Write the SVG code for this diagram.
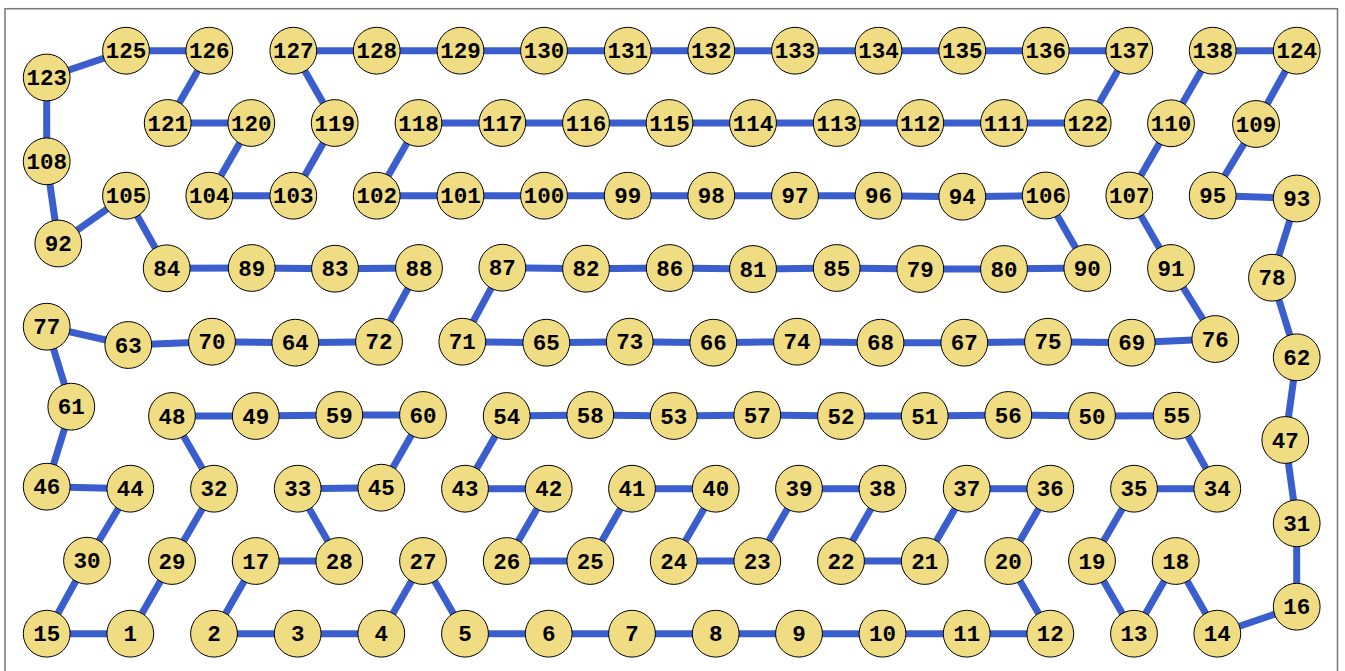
<svg xmlns="http://www.w3.org/2000/svg" width="1345" height="671" viewBox="0 0 1345 671">
<style>
.e line{stroke:#3b5ecf;stroke-width:7;stroke-linecap:butt}
.n circle{fill:#f0dc82;stroke:#000;stroke-width:1}
.n text{font-family:"Liberation Mono","DejaVu Sans Mono",monospace;font-weight:bold;font-size:22.5px;text-anchor:middle;fill:#000}
</style>
<rect x="0" y="0" width="1345" height="671" fill="#fff"/>
<rect x="5" y="8.7" width="1332.5" height="675" fill="#fff" stroke="#777" stroke-width="1.5"/>
<g id="connectors" class="e">
<line x1="130.3" y1="633.7" x2="46.7" y2="633.7"/>
<line x1="46.7" y1="633.7" x2="87" y2="560.7"/>
<line x1="87" y1="560.7" x2="130.3" y2="488.7"/>
<line x1="130.3" y1="488.7" x2="46.7" y2="486.7"/>
<line x1="46.7" y1="486.7" x2="71.3" y2="406.7"/>
<line x1="71.3" y1="406.7" x2="46.7" y2="326.7"/>
<line x1="46.7" y1="326.7" x2="128.3" y2="345"/>
<line x1="128.3" y1="345" x2="212" y2="341.7"/>
<line x1="212" y1="341.7" x2="295.3" y2="342.7"/>
<line x1="295.3" y1="342.7" x2="379" y2="341.7"/>
<line x1="379" y1="341.7" x2="419" y2="268"/>
<line x1="419" y1="268" x2="335" y2="268.7"/>
<line x1="335" y1="268.7" x2="251.7" y2="268"/>
<line x1="251.7" y1="268" x2="166.7" y2="268.3"/>
<line x1="166.7" y1="268.3" x2="126" y2="195.7"/>
<line x1="126" y1="195.7" x2="58.3" y2="243.5"/>
<line x1="58.3" y1="243.5" x2="46.7" y2="161.3"/>
<line x1="46.7" y1="161.3" x2="46.7" y2="77.5"/>
<line x1="46.7" y1="77.5" x2="126" y2="50.7"/>
<line x1="126" y1="50.7" x2="209.3" y2="50.7"/>
<line x1="209.3" y1="50.7" x2="167.7" y2="123"/>
<line x1="167.7" y1="123" x2="251.3" y2="123"/>
<line x1="251.3" y1="123" x2="209.3" y2="195.7"/>
<line x1="209.3" y1="195.7" x2="293.3" y2="195.7"/>
<line x1="293.3" y1="195.7" x2="334.7" y2="123"/>
<line x1="334.7" y1="123" x2="293.3" y2="50.7"/>
<line x1="293.3" y1="50.7" x2="1129.3" y2="50.7"/>
<line x1="1129.3" y1="50.7" x2="1087.7" y2="123"/>
<line x1="1087.7" y1="123" x2="418.5" y2="123"/>
<line x1="418.5" y1="123" x2="376.7" y2="195.7"/>
<line x1="376.7" y1="195.7" x2="878.5" y2="195.7"/>
<line x1="878.5" y1="195.7" x2="962.3" y2="196.7"/>
<line x1="962.3" y1="196.7" x2="1045.7" y2="195.5"/>
<line x1="1045.7" y1="195.5" x2="1087.3" y2="268"/>
<line x1="1087.3" y1="268" x2="1004" y2="269"/>
<line x1="1004" y1="269" x2="920.3" y2="269"/>
<line x1="920.3" y1="269" x2="836.7" y2="268"/>
<line x1="836.7" y1="268" x2="753" y2="269"/>
<line x1="753" y1="269" x2="669.7" y2="268"/>
<line x1="669.7" y1="268" x2="586" y2="268.7"/>
<line x1="586" y1="268.7" x2="502.3" y2="267.7"/>
<line x1="502.3" y1="267.7" x2="462.3" y2="341.7"/>
<line x1="462.3" y1="341.7" x2="546.3" y2="342.7"/>
<line x1="546.3" y1="342.7" x2="629.7" y2="341.7"/>
<line x1="629.7" y1="341.7" x2="713.3" y2="342.7"/>
<line x1="713.3" y1="342.7" x2="797" y2="341.7"/>
<line x1="797" y1="341.7" x2="880.5" y2="342.7"/>
<line x1="880.5" y1="342.7" x2="964.3" y2="342.7"/>
<line x1="964.3" y1="342.7" x2="1048" y2="341.7"/>
<line x1="1048" y1="341.7" x2="1131.7" y2="342.7"/>
<line x1="1131.7" y1="342.7" x2="1215.3" y2="339"/>
<line x1="1215.3" y1="339" x2="1171" y2="268"/>
<line x1="1171" y1="268" x2="1129.3" y2="195.5"/>
<line x1="1129.3" y1="195.5" x2="1171" y2="123.3"/>
<line x1="1171" y1="123.3" x2="1212.7" y2="50.7"/>
<line x1="1212.7" y1="50.7" x2="1296.7" y2="50.7"/>
<line x1="1296.7" y1="50.7" x2="1256" y2="124"/>
<line x1="1256" y1="124" x2="1212.7" y2="195.5"/>
<line x1="1212.7" y1="195.5" x2="1296.7" y2="198.5"/>
<line x1="1296.7" y1="198.5" x2="1272" y2="277.7"/>
<line x1="1272" y1="277.7" x2="1296.7" y2="357.3"/>
<line x1="1296.7" y1="357.3" x2="1285.3" y2="440"/>
<line x1="1285.3" y1="440" x2="1296.7" y2="523.3"/>
<line x1="1296.7" y1="523.3" x2="1296.7" y2="606.7"/>
<line x1="1296.7" y1="606.7" x2="1217.3" y2="633.7"/>
<line x1="1217.3" y1="633.7" x2="1175.7" y2="561"/>
<line x1="1175.7" y1="561" x2="1134" y2="633.7"/>
<line x1="1134" y1="633.7" x2="1092" y2="561"/>
<line x1="1092" y1="561" x2="1134" y2="488.7"/>
<line x1="1134" y1="488.7" x2="1217.3" y2="488.7"/>
<line x1="1217.3" y1="488.7" x2="1176.7" y2="415.7"/>
<line x1="1176.7" y1="415.7" x2="1092" y2="416"/>
<line x1="1092" y1="416" x2="1008.3" y2="415"/>
<line x1="1008.3" y1="415" x2="924.7" y2="416"/>
<line x1="924.7" y1="416" x2="841" y2="416"/>
<line x1="841" y1="416" x2="757.3" y2="415"/>
<line x1="757.3" y1="415" x2="673.7" y2="416"/>
<line x1="673.7" y1="416" x2="590.3" y2="415"/>
<line x1="590.3" y1="415" x2="506.7" y2="416"/>
<line x1="506.7" y1="416" x2="465" y2="488.7"/>
<line x1="465" y1="488.7" x2="548.7" y2="488.7"/>
<line x1="548.7" y1="488.7" x2="506.7" y2="561"/>
<line x1="506.7" y1="561" x2="590.3" y2="561"/>
<line x1="590.3" y1="561" x2="632" y2="488.7"/>
<line x1="632" y1="488.7" x2="715.7" y2="488.7"/>
<line x1="715.7" y1="488.7" x2="673.7" y2="561"/>
<line x1="673.7" y1="561" x2="757.3" y2="561"/>
<line x1="757.3" y1="561" x2="799" y2="488.7"/>
<line x1="799" y1="488.7" x2="882.5" y2="488.7"/>
<line x1="882.5" y1="488.7" x2="841" y2="561"/>
<line x1="841" y1="561" x2="924.7" y2="561"/>
<line x1="924.7" y1="561" x2="966.7" y2="488.7"/>
<line x1="966.7" y1="488.7" x2="1050.3" y2="488.7"/>
<line x1="1050.3" y1="488.7" x2="1008.3" y2="561"/>
<line x1="1008.3" y1="561" x2="1050.3" y2="633.7"/>
<line x1="1050.3" y1="633.7" x2="465" y2="633.7"/>
<line x1="465" y1="633.7" x2="423" y2="561"/>
<line x1="423" y1="561" x2="381.3" y2="633.7"/>
<line x1="381.3" y1="633.7" x2="214" y2="633.7"/>
<line x1="214" y1="633.7" x2="255.7" y2="561"/>
<line x1="255.7" y1="561" x2="339.3" y2="561"/>
<line x1="339.3" y1="561" x2="297.7" y2="488.7"/>
<line x1="297.7" y1="488.7" x2="381.3" y2="487.7"/>
<line x1="381.3" y1="487.7" x2="423" y2="415"/>
<line x1="423" y1="415" x2="339.3" y2="415"/>
<line x1="339.3" y1="415" x2="255.7" y2="416"/>
<line x1="255.7" y1="416" x2="172" y2="416"/>
<line x1="172" y1="416" x2="214" y2="488.7"/>
<line x1="214" y1="488.7" x2="172" y2="561"/>
<line x1="172" y1="561" x2="130.3" y2="633.7"/>
</g>
<g class="n">
<g id="n1" transform="translate(130.3,633.7)"><circle r="23.4"/><text y="7.5">1</text></g>
<g id="n2" transform="translate(214,633.7)"><circle r="23.4"/><text y="7.5">2</text></g>
<g id="n3" transform="translate(297.7,633.7)"><circle r="23.4"/><text y="7.5">3</text></g>
<g id="n4" transform="translate(381.3,633.7)"><circle r="23.4"/><text y="7.5">4</text></g>
<g id="n5" transform="translate(465,633.7)"><circle r="23.4"/><text y="7.5">5</text></g>
<g id="n6" transform="translate(548.7,633.7)"><circle r="23.4"/><text y="7.5">6</text></g>
<g id="n7" transform="translate(632,633.7)"><circle r="23.4"/><text y="7.5">7</text></g>
<g id="n8" transform="translate(715.7,633.7)"><circle r="23.4"/><text y="7.5">8</text></g>
<g id="n9" transform="translate(799,633.7)"><circle r="23.4"/><text y="7.5">9</text></g>
<g id="n10" transform="translate(882.5,633.7)"><circle r="23.4"/><text y="7.5">10</text></g>
<g id="n11" transform="translate(966.7,633.7)"><circle r="23.4"/><text y="7.5">11</text></g>
<g id="n12" transform="translate(1050.3,633.7)"><circle r="23.4"/><text y="7.5">12</text></g>
<g id="n13" transform="translate(1134,633.7)"><circle r="23.4"/><text y="7.5">13</text></g>
<g id="n14" transform="translate(1217.3,633.7)"><circle r="23.4"/><text y="7.5">14</text></g>
<g id="n15" transform="translate(46.7,633.7)"><circle r="23.4"/><text y="7.5">15</text></g>
<g id="n16" transform="translate(1296.7,606.7)"><circle r="23.4"/><text y="7.5">16</text></g>
<g id="n17" transform="translate(255.7,561)"><circle r="23.4"/><text y="7.5">17</text></g>
<g id="n18" transform="translate(1175.7,561)"><circle r="23.4"/><text y="7.5">18</text></g>
<g id="n19" transform="translate(1092,561)"><circle r="23.4"/><text y="7.5">19</text></g>
<g id="n20" transform="translate(1008.3,561)"><circle r="23.4"/><text y="7.5">20</text></g>
<g id="n21" transform="translate(924.7,561)"><circle r="23.4"/><text y="7.5">21</text></g>
<g id="n22" transform="translate(841,561)"><circle r="23.4"/><text y="7.5">22</text></g>
<g id="n23" transform="translate(757.3,561)"><circle r="23.4"/><text y="7.5">23</text></g>
<g id="n24" transform="translate(673.7,561)"><circle r="23.4"/><text y="7.5">24</text></g>
<g id="n25" transform="translate(590.3,561)"><circle r="23.4"/><text y="7.5">25</text></g>
<g id="n26" transform="translate(506.7,561)"><circle r="23.4"/><text y="7.5">26</text></g>
<g id="n27" transform="translate(423,561)"><circle r="23.4"/><text y="7.5">27</text></g>
<g id="n28" transform="translate(339.3,561)"><circle r="23.4"/><text y="7.5">28</text></g>
<g id="n29" transform="translate(172,561)"><circle r="23.4"/><text y="7.5">29</text></g>
<g id="n30" transform="translate(87,560.7)"><circle r="23.4"/><text y="7.5">30</text></g>
<g id="n31" transform="translate(1296.7,523.3)"><circle r="23.4"/><text y="7.5">31</text></g>
<g id="n32" transform="translate(214,488.7)"><circle r="23.4"/><text y="7.5">32</text></g>
<g id="n33" transform="translate(297.7,488.7)"><circle r="23.4"/><text y="7.5">33</text></g>
<g id="n34" transform="translate(1217.3,488.7)"><circle r="23.4"/><text y="7.5">34</text></g>
<g id="n35" transform="translate(1134,488.7)"><circle r="23.4"/><text y="7.5">35</text></g>
<g id="n36" transform="translate(1050.3,488.7)"><circle r="23.4"/><text y="7.5">36</text></g>
<g id="n37" transform="translate(966.7,488.7)"><circle r="23.4"/><text y="7.5">37</text></g>
<g id="n38" transform="translate(882.5,488.7)"><circle r="23.4"/><text y="7.5">38</text></g>
<g id="n39" transform="translate(799,488.7)"><circle r="23.4"/><text y="7.5">39</text></g>
<g id="n40" transform="translate(715.7,488.7)"><circle r="23.4"/><text y="7.5">40</text></g>
<g id="n41" transform="translate(632,488.7)"><circle r="23.4"/><text y="7.5">41</text></g>
<g id="n42" transform="translate(548.7,488.7)"><circle r="23.4"/><text y="7.5">42</text></g>
<g id="n43" transform="translate(465,488.7)"><circle r="23.4"/><text y="7.5">43</text></g>
<g id="n44" transform="translate(130.3,488.7)"><circle r="23.4"/><text y="7.5">44</text></g>
<g id="n45" transform="translate(381.3,487.7)"><circle r="23.4"/><text y="7.5">45</text></g>
<g id="n46" transform="translate(46.7,486.7)"><circle r="23.4"/><text y="7.5">46</text></g>
<g id="n47" transform="translate(1285.3,440)"><circle r="23.4"/><text y="7.5">47</text></g>
<g id="n48" transform="translate(172,416)"><circle r="23.4"/><text y="7.5">48</text></g>
<g id="n49" transform="translate(255.7,416)"><circle r="23.4"/><text y="7.5">49</text></g>
<g id="n50" transform="translate(1092,416)"><circle r="23.4"/><text y="7.5">50</text></g>
<g id="n51" transform="translate(924.7,416)"><circle r="23.4"/><text y="7.5">51</text></g>
<g id="n52" transform="translate(841,416)"><circle r="23.4"/><text y="7.5">52</text></g>
<g id="n53" transform="translate(673.7,416)"><circle r="23.4"/><text y="7.5">53</text></g>
<g id="n54" transform="translate(506.7,416)"><circle r="23.4"/><text y="7.5">54</text></g>
<g id="n55" transform="translate(1176.7,415.7)"><circle r="23.4"/><text y="7.5">55</text></g>
<g id="n56" transform="translate(1008.3,415)"><circle r="23.4"/><text y="7.5">56</text></g>
<g id="n57" transform="translate(757.3,415)"><circle r="23.4"/><text y="7.5">57</text></g>
<g id="n58" transform="translate(590.3,415)"><circle r="23.4"/><text y="7.5">58</text></g>
<g id="n59" transform="translate(339.3,415)"><circle r="23.4"/><text y="7.5">59</text></g>
<g id="n60" transform="translate(423,415)"><circle r="23.4"/><text y="7.5">60</text></g>
<g id="n61" transform="translate(71.3,406.7)"><circle r="23.4"/><text y="7.5">61</text></g>
<g id="n62" transform="translate(1296.7,357.3)"><circle r="23.4"/><text y="7.5">62</text></g>
<g id="n63" transform="translate(128.3,345)"><circle r="23.4"/><text y="7.5">63</text></g>
<g id="n64" transform="translate(295.3,342.7)"><circle r="23.4"/><text y="7.5">64</text></g>
<g id="n65" transform="translate(546.3,342.7)"><circle r="23.4"/><text y="7.5">65</text></g>
<g id="n66" transform="translate(713.3,342.7)"><circle r="23.4"/><text y="7.5">66</text></g>
<g id="n67" transform="translate(964.3,342.7)"><circle r="23.4"/><text y="7.5">67</text></g>
<g id="n68" transform="translate(880.5,342.7)"><circle r="23.4"/><text y="7.5">68</text></g>
<g id="n69" transform="translate(1131.7,342.7)"><circle r="23.4"/><text y="7.5">69</text></g>
<g id="n70" transform="translate(212,341.7)"><circle r="23.4"/><text y="7.5">70</text></g>
<g id="n71" transform="translate(462.3,341.7)"><circle r="23.4"/><text y="7.5">71</text></g>
<g id="n72" transform="translate(379,341.7)"><circle r="23.4"/><text y="7.5">72</text></g>
<g id="n73" transform="translate(629.7,341.7)"><circle r="23.4"/><text y="7.5">73</text></g>
<g id="n74" transform="translate(797,341.7)"><circle r="23.4"/><text y="7.5">74</text></g>
<g id="n75" transform="translate(1048,341.7)"><circle r="23.4"/><text y="7.5">75</text></g>
<g id="n76" transform="translate(1215.3,339)"><circle r="23.4"/><text y="7.5">76</text></g>
<g id="n77" transform="translate(46.7,326.7)"><circle r="23.4"/><text y="7.5">77</text></g>
<g id="n78" transform="translate(1272,277.7)"><circle r="23.4"/><text y="7.5">78</text></g>
<g id="n79" transform="translate(920.3,269)"><circle r="23.4"/><text y="7.5">79</text></g>
<g id="n80" transform="translate(1004,269)"><circle r="23.4"/><text y="7.5">80</text></g>
<g id="n81" transform="translate(753,269)"><circle r="23.4"/><text y="7.5">81</text></g>
<g id="n82" transform="translate(586,268.7)"><circle r="23.4"/><text y="7.5">82</text></g>
<g id="n83" transform="translate(335,268.7)"><circle r="23.4"/><text y="7.5">83</text></g>
<g id="n84" transform="translate(166.7,268.3)"><circle r="23.4"/><text y="7.5">84</text></g>
<g id="n85" transform="translate(836.7,268)"><circle r="23.4"/><text y="7.5">85</text></g>
<g id="n86" transform="translate(669.7,268)"><circle r="23.4"/><text y="7.5">86</text></g>
<g id="n87" transform="translate(502.3,267.7)"><circle r="23.4"/><text y="7.5">87</text></g>
<g id="n88" transform="translate(419,268)"><circle r="23.4"/><text y="7.5">88</text></g>
<g id="n89" transform="translate(251.7,268)"><circle r="23.4"/><text y="7.5">89</text></g>
<g id="n90" transform="translate(1087.3,268)"><circle r="23.4"/><text y="7.5">90</text></g>
<g id="n91" transform="translate(1171,268)"><circle r="23.4"/><text y="7.5">91</text></g>
<g id="n92" transform="translate(58.3,243.5)"><circle r="23.4"/><text y="7.5">92</text></g>
<g id="n93" transform="translate(1296.7,198.5)"><circle r="23.4"/><text y="7.5">93</text></g>
<g id="n94" transform="translate(962.3,196.7)"><circle r="23.4"/><text y="7.5">94</text></g>
<g id="n95" transform="translate(1212.7,195.5)"><circle r="23.4"/><text y="7.5">95</text></g>
<g id="n96" transform="translate(878.5,195.7)"><circle r="23.4"/><text y="7.5">96</text></g>
<g id="n97" transform="translate(795,195.7)"><circle r="23.4"/><text y="7.5">97</text></g>
<g id="n98" transform="translate(711.3,195.7)"><circle r="23.4"/><text y="7.5">98</text></g>
<g id="n99" transform="translate(627.7,195.7)"><circle r="23.4"/><text y="7.5">99</text></g>
<g id="n100" transform="translate(544,195.7)"><circle r="23.4"/><text y="7.5">100</text></g>
<g id="n101" transform="translate(460.5,195.7)"><circle r="23.4"/><text y="7.5">101</text></g>
<g id="n102" transform="translate(376.7,195.7)"><circle r="23.4"/><text y="7.5">102</text></g>
<g id="n103" transform="translate(293.3,195.7)"><circle r="23.4"/><text y="7.5">103</text></g>
<g id="n104" transform="translate(209.3,195.7)"><circle r="23.4"/><text y="7.5">104</text></g>
<g id="n105" transform="translate(126,195.7)"><circle r="23.4"/><text y="7.5">105</text></g>
<g id="n106" transform="translate(1045.7,195.5)"><circle r="23.4"/><text y="7.5">106</text></g>
<g id="n107" transform="translate(1129.3,195.5)"><circle r="23.4"/><text y="7.5">107</text></g>
<g id="n108" transform="translate(46.7,161.3)"><circle r="23.4"/><text y="7.5">108</text></g>
<g id="n109" transform="translate(1256,124)"><circle r="23.4"/><text y="7.5">109</text></g>
<g id="n110" transform="translate(1171,123.3)"><circle r="23.4"/><text y="7.5">110</text></g>
<g id="n111" transform="translate(1004,123)"><circle r="23.4"/><text y="7.5">111</text></g>
<g id="n112" transform="translate(920.3,123)"><circle r="23.4"/><text y="7.5">112</text></g>
<g id="n113" transform="translate(836.7,123)"><circle r="23.4"/><text y="7.5">113</text></g>
<g id="n114" transform="translate(753,123)"><circle r="23.4"/><text y="7.5">114</text></g>
<g id="n115" transform="translate(669.5,123)"><circle r="23.4"/><text y="7.5">115</text></g>
<g id="n116" transform="translate(586,123)"><circle r="23.4"/><text y="7.5">116</text></g>
<g id="n117" transform="translate(502.3,123)"><circle r="23.4"/><text y="7.5">117</text></g>
<g id="n118" transform="translate(418.5,123)"><circle r="23.4"/><text y="7.5">118</text></g>
<g id="n119" transform="translate(334.7,123)"><circle r="23.4"/><text y="7.5">119</text></g>
<g id="n120" transform="translate(251.3,123)"><circle r="23.4"/><text y="7.5">120</text></g>
<g id="n121" transform="translate(167.7,123)"><circle r="23.4"/><text y="7.5">121</text></g>
<g id="n122" transform="translate(1087.7,123)"><circle r="23.4"/><text y="7.5">122</text></g>
<g id="n123" transform="translate(46.7,77.5)"><circle r="23.4"/><text y="7.5">123</text></g>
<g id="n124" transform="translate(1296.7,50.7)"><circle r="23.4"/><text y="7.5">124</text></g>
<g id="n125" transform="translate(126,50.7)"><circle r="23.4"/><text y="7.5">125</text></g>
<g id="n126" transform="translate(209.3,50.7)"><circle r="23.4"/><text y="7.5">126</text></g>
<g id="n127" transform="translate(293.3,50.7)"><circle r="23.4"/><text y="7.5">127</text></g>
<g id="n128" transform="translate(376.7,50.7)"><circle r="23.4"/><text y="7.5">128</text></g>
<g id="n129" transform="translate(460.5,50.7)"><circle r="23.4"/><text y="7.5">129</text></g>
<g id="n130" transform="translate(544,50.7)"><circle r="23.4"/><text y="7.5">130</text></g>
<g id="n131" transform="translate(627.7,50.7)"><circle r="23.4"/><text y="7.5">131</text></g>
<g id="n132" transform="translate(711.3,50.7)"><circle r="23.4"/><text y="7.5">132</text></g>
<g id="n133" transform="translate(795,50.7)"><circle r="23.4"/><text y="7.5">133</text></g>
<g id="n134" transform="translate(878.5,50.7)"><circle r="23.4"/><text y="7.5">134</text></g>
<g id="n135" transform="translate(962.3,50.7)"><circle r="23.4"/><text y="7.5">135</text></g>
<g id="n136" transform="translate(1045.7,50.7)"><circle r="23.4"/><text y="7.5">136</text></g>
<g id="n137" transform="translate(1129.3,50.7)"><circle r="23.4"/><text y="7.5">137</text></g>
<g id="n138" transform="translate(1212.7,50.7)"><circle r="23.4"/><text y="7.5">138</text></g>
</g>
</svg>
